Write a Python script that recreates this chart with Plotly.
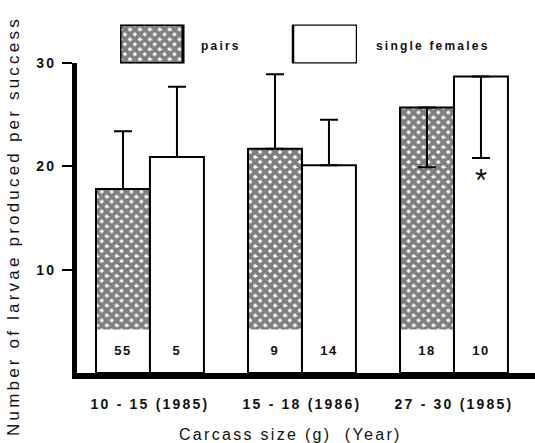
import plotly.graph_objects as go

# ---- data ----
categories = ["10 - 15 (1985)", "15 - 18 (1986)", "27 - 30 (1985)"]
pairs_mean = [17.8, 21.7, 25.7]
single_mean = [20.9, 20.1, 28.7]
pairs_err_plus = [5.6, 7.2, 0.0]
pairs_err_minus = [0.0, 0.0, 5.8]
single_err_plus = [6.8, 4.4, 0.0]
single_err_minus = [0.0, 0.0, 7.9]
pairs_n = ["55", "9", "18"]
single_n = ["5", "14", "10"]
y_ticks = [10, 20, 30]
series_names = ["pairs", "single females"]

FONT = "Liberation Sans, Arial, sans-serif"
INK = "#111111"
BW = 0.355          # bar width in category units
BOX = 4.2           # height of white label box at bar foot


def spaced(s, px=2.2):
    return '<span style="letter-spacing:%.1fpx">%s</span>' % (px, s)


xi = list(range(len(categories)))
x_pairs = [i - BW / 2 for i in xi]
x_single = [i + BW / 2 for i in xi]

# dense cross-hatch
hatch = dict(shape="x", fgcolor="black", bgcolor="white", size=7, solidity=0.8)

fig = go.Figure()

# hatched body of pairs bars
fig.add_trace(go.Bar(x=xi, y=pairs_mean, width=BW, offset=-BW,
                     marker=dict(color="white", pattern=hatch, line=dict(width=0)),
                     showlegend=False, hoverinfo="skip"))
# white foot boxes of pairs bars
fig.add_trace(go.Bar(x=xi, y=[BOX] * len(xi), width=BW, offset=-BW,
                     marker=dict(color="white", line=dict(width=0)),
                     showlegend=False, hoverinfo="skip"))
# outline + error bars of pairs bars
fig.add_trace(go.Bar(x=xi, y=pairs_mean, width=BW, offset=-BW, name=series_names[0],
                     marker=dict(color="rgba(0,0,0,0)", line=dict(color="black", width=2)),
                     error_y=dict(type="data", symmetric=False, array=pairs_err_plus,
                                  arrayminus=pairs_err_minus, color="black",
                                  thickness=2, width=9),
                     showlegend=False))
# single female bars
fig.add_trace(go.Bar(x=xi, y=single_mean, width=BW, offset=0, name=series_names[1],
                     marker=dict(color="white", line=dict(color="black", width=2)),
                     error_y=dict(type="data", symmetric=False, array=single_err_plus,
                                  arrayminus=single_err_minus, color="black",
                                  thickness=2, width=9),
                     showlegend=False))

# sample sizes
fig.add_trace(go.Scatter(x=x_pairs + x_single, y=[BOX / 2] * (2 * len(xi)),
                         mode="text", text=[spaced(t, 1.5) for t in pairs_n + single_n],
                         textfont=dict(family=FONT, size=13, color=INK, weight="bold"),
                         textposition="middle center", showlegend=False,
                         hoverinfo="skip"))

# legend swatches on their own small axes
fig.add_trace(go.Bar(x=[0.133], y=[1], width=0.266, xaxis="x2", yaxis="y2",
                     marker=dict(color="white", pattern=hatch, line=dict(color="black", width=3)),
                     showlegend=False, hoverinfo="skip"))
fig.add_trace(go.Bar(x=[0.865], y=[1], width=0.27, xaxis="x2", yaxis="y2",
                     marker=dict(color="white", line=dict(color="black", width=2.5)),
                     showlegend=False, hoverinfo="skip"))

W, H = 535, 443
ML, MR, MT, MB = 77, 0, 20, 70
ph = H - MT - MB
pw = W - ML - MR
main_top = (373 - 63) / ph

fig.update_layout(
    width=W, height=H,
    margin=dict(l=ML, r=MR, t=MT, b=MB, autoexpand=False),
    paper_bgcolor="white", plot_bgcolor="white",
    barmode="overlay",
    font=dict(family=FONT, color=INK),
    xaxis=dict(range=[-0.48, 2.533], domain=[0, 1], tickvals=xi,
               ticktext=[spaced(c) for c in categories],
               tickfont=dict(family=FONT, size=14, color=INK, weight="bold"),
               ticks="", ticklabelstandoff=13,
               showline=True, linecolor="black", linewidth=6,
               showgrid=False, zeroline=False, anchor="y"),
    yaxis=dict(range=[0, 30], domain=[0, main_top], tickvals=y_ticks,
               ticktext=[spaced(str(v)) for v in y_ticks],
               tickfont=dict(family=FONT, size=14, color=INK, weight="bold"),
               ticks="outside", ticklen=10, tickwidth=2, tickcolor="black",
               ticklabelstandoff=3,
               showline=True, linecolor="black", linewidth=5,
               showgrid=False, zeroline=False, anchor="x"),
    xaxis2=dict(range=[0, 1], domain=[(120 - ML) / pw, (357 - ML) / pw],
                visible=False, anchor="y2", fixedrange=True),
    yaxis2=dict(range=[0, 1], domain=[(373 - 63.5) / ph, (373 - 24.5) / ph],
                visible=False, anchor="x2", fixedrange=True),
    annotations=[
        dict(text=spaced(series_names[0]), xref="paper", yref="paper",
             x=(199 - ML) / pw, y=(373 - 46) / ph, xanchor="left", yanchor="middle",
             showarrow=False, font=dict(family=FONT, size=12, color=INK, weight="bold")),
        dict(text=spaced(series_names[1]), xref="paper", yref="paper",
             x=(374 - ML) / pw, y=(373 - 46) / ph, xanchor="left", yanchor="middle",
             showarrow=False, font=dict(family=FONT, size=12, color=INK, weight="bold")),
        dict(text="*", xref="x", yref="y", x=2 + BW / 2, y=18.6,
             xanchor="center", yanchor="middle", showarrow=False,
             font=dict(family=FONT, size=31, color=INK)),
        dict(text=spaced("Carcass size (g)  (Year)", 2.3), xref="paper", yref="paper",
             x=(290 - ML) / pw, y=(373 - 434) / ph, xanchor="center", yanchor="middle",
             showarrow=False, font=dict(family=FONT, size=16, color=INK)),
        dict(text=spaced("Number of larvae produced per success", 3.2), xref="paper", yref="paper",
             x=(13 - ML) / pw, y=(373 - 226) / ph, xanchor="center", yanchor="middle",
             textangle=-90, showarrow=False, font=dict(family=FONT, size=17, color=INK)),
    ],
)

fig.write_html("out.html", config={"displayModeBar": False},
               post_script="document.body.style.margin='0';")
